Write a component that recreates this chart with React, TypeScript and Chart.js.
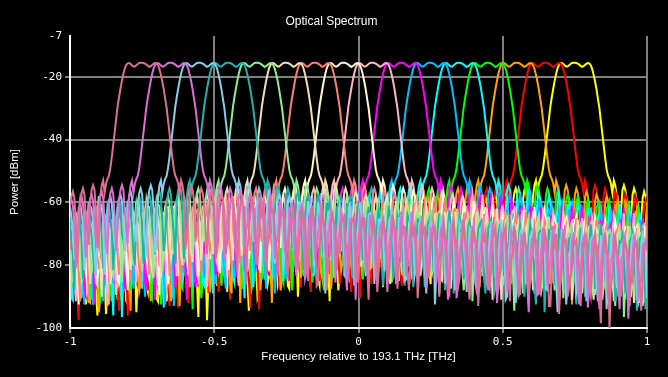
import { useEffect, useRef } from "react";
import { Chart, registerables } from "chart.js";

Chart.register(...registerables);

// ---- data ----
const CHANNEL_CENTERS = [
  -0.75, -0.65, -0.55, -0.45, -0.35, -0.25, -0.15, -0.05,
  0.05, 0.15, 0.25, 0.35, 0.45, 0.55, 0.65, 0.75,
];
const CHANNEL_COLORS = [
  "#db7093", "#da70d6", "#87ceeb", "#20b2aa", "#90ee90", "#f5deb3", "#fa8072", "#fffacd",
  "#ffb6c1", "#ff00ff", "#00bfff", "#00ffff", "#00ff00", "#ffa500", "#ff0000", "#ffff00",
];
const FREQ_MIN = -1;
const FREQ_MAX = 1;
const FREQ_STEP = 0.005;

// passband profile in dBm, offsets -0.13 .. +0.13 THz in 0.005 steps
const MAIN_LOBE = [
  -57, -54, -52.5, -51.5, -49, -45.5, -41.5, -37.5, -33.5, -29.5, -26.5, -23.8, -21.2, -19,
  -17.3, -16.2, -15.7, -15.6, -15.9, -16.4, -16.7, -16.7, -16.3, -15.9, -15.6, -15.5,
  -15.5,
  -15.6, -15.8, -16.1, -16.5, -16.8, -16.6, -16.2, -15.8, -15.6, -15.7, -16.3, -17.5,
  -19.3, -21.5, -24, -27, -30, -34, -38, -42, -46, -49.5, -51.5, -52.5, -54, -57,
];
// sidelobe peak level (dBm) per lobe, lobes are 0.035 THz wide, starting 0.135 THz from centre
const SIDELOBE_ENV = [
  -53, -54.5, -55.5, -56.5, -57.5, -58, -59, -60, -60.5, -61.5, -62, -62.5, -63, -63.5,
  -64, -64, -64.5, -65, -65, -65.5, -66, -66, -66.5, -67, -67, -67.5, -68, -68, -68.5,
  -68.5, -69, -69, -69.5, -69.5, -70, -70, -70.5, -70.5, -71, -71, -71.5, -71.5, -72,
  -72, -72.5, -72.5, -73,
];
// shape of one sidelobe relative to its peak (null = spectral notch)
const SIDELOBE_SHAPE: (number | null)[] = [0, -1.5, -5, null, null, -10, -3];
// notch depths below the sidelobe peak (dB)
const NULL_DROP = [
  -16, -20, -14, -22, -18, -13, -21, -19, -15, -24, -17, -20, -14, -21, -18, -15, -20, -23,
  -17, -12, -19, -16, -25,
];
// ripple of the far noise floor (dB)
const FLOOR_JITTER = [
  0, 1.5, -2, 0.5, -1, 2.5, -3, 1, 0, -1.5, 2, -0.5, 3, -2.5, 0.5, -1, 1.5, -3.5, 2, 0, -2,
  1, -0.5, 2.5, -1.5, 0.5, -3, 1, -1,
];
const Y_TICKS = [-100, -80, -60, -40, -20, -7];
const X_TICKS = [-1, -0.5, 0, 0.5, 1];

function buildSeries(k: number) {
  const c = CHANNEL_CENTERS[k];
  const n = Math.round((FREQ_MAX - FREQ_MIN) / FREQ_STEP);
  const half = (MAIN_LOBE.length - 1) / 2;
  const L = SIDELOBE_SHAPE.length;
  const pts: { x: number; y: number }[] = [];
  for (let i = 0; i <= n; i++) {
    const x = +(FREQ_MIN + i * FREQ_STEP).toFixed(4);
    const idx = Math.round((x - c) / FREQ_STEP);
    const a = Math.abs(idx);
    let y: number;
    if (a <= half) {
      y = MAIN_LOBE[idx + half];
    } else {
      const s = a - half - 1;
      const lobe = Math.floor(s / L);
      const pos = s % L;
      const env = SIDELOBE_ENV[Math.min(lobe, SIDELOBE_ENV.length - 1)];
      const shape = SIDELOBE_SHAPE[pos];
      if (shape === null) {
        y = env + NULL_DROP[(lobe + pos + 5 * k + (idx < 0 ? 3 : 0)) % NULL_DROP.length];
      } else {
        y = env + shape;
      }
      if (lobe >= 6) y += FLOOR_JITTER[(i + 7 * k) % FLOOR_JITTER.length];
    }
    pts.push({ x, y: Math.max(y, -100) });
  }
  return pts;
}

const GRID_COLOR = "#808080";
const MONO = "'DejaVu Sans Mono', 'Liberation Mono', monospace";
const SANS = "'Liberation Sans', Arial, sans-serif";

export default function App() {
  const ref = useRef<HTMLCanvasElement | null>(null);
  useEffect(() => {
    document.body.style.background = "#000";
    const canvas = ref.current!;
    const chart = new Chart(canvas, {
      type: "line",
      data: {
        datasets: CHANNEL_CENTERS.map((_, k) => ({
          label: "Ch " + (k + 1),
          data: buildSeries(k),
          borderColor: CHANNEL_COLORS[k],
          backgroundColor: CHANNEL_COLORS[k],
          borderWidth: 2,
          pointRadius: 0,
          fill: false,
          tension: 0,
        })),
      },
      options: {
        animation: false,
        responsive: false,
        devicePixelRatio: 1,
        events: [],
        layout: { padding: { left: 16, right: 21, top: 0, bottom: 0 } },
        plugins: {
          legend: { display: false },
          tooltip: { enabled: false },
          title: {
            display: true,
            text: "Optical Spectrum",
            color: "#ffffff",
            font: { family: SANS, size: 12, weight: "normal", lineHeight: 1.2 },
            padding: { top: 14, bottom: 7.6 },
          },
        },
        scales: {
          x: {
            type: "linear",
            min: -1,
            max: 1,
            afterFit: (s: any) => {
              s.height = 49;
            },
            afterBuildTicks: (s: any) => {
              s.ticks = X_TICKS.map((v) => ({ value: v }));
            },
            ticks: {
              color: "#ffffff",
              font: { family: MONO, size: 11 },
              padding: 3,
              maxRotation: 0,
              autoSkip: false,
              callback: (v: any) => String(v),
            },
            grid: {
              color: GRID_COLOR,
              lineWidth: 2,
              tickLength: 5,
            },
            border: { display: true, color: "#ffffff", width: 2 },
            title: {
              display: true,
              text: "Frequency relative to 193.1 THz [THz]",
              color: "#ffffff",
              font: { family: SANS, size: 11.5, weight: "normal", lineHeight: 1.2 },
              padding: { top: 0, bottom: 13 },
            },
          },
          y: {
            type: "linear",
            min: -100,
            max: -7,
            afterFit: (s: any) => {
              s.width = 54;
            },
            afterBuildTicks: (s: any) => {
              s.ticks = Y_TICKS.map((v) => ({ value: v }));
            },
            ticks: {
              color: "#ffffff",
              font: { family: MONO, size: 11 },
              padding: 3,
              autoSkip: false,
              callback: (v: any) => String(v),
            },
            grid: {
              color: (ctx: any) =>
                ctx.tick && (ctx.tick.value === -7 || ctx.tick.value === -100)
                  ? "rgba(0,0,0,0)"
                  : GRID_COLOR,
              lineWidth: 2,
              tickLength: 5,
            },
            border: { display: true, color: "#ffffff", width: 2 },
            title: {
              display: true,
              text: "Power [dBm]",
              color: "#ffffff",
              font: { family: SANS, size: 11.5, weight: "normal", lineHeight: 1.2 },
              padding: { top: -8, bottom: 0 },
            },
          },
        },
      },
    } as any);
    return () => chart.destroy();
  }, []);
  return (
    <div
      style={{
        position: "fixed",
        left: 0,
        top: 0,
        width: 668,
        height: 377,
        background: "#000",
      }}
    >
      <canvas ref={ref} width={668} height={377} style={{ display: "block" }} />
    </div>
  );
}
